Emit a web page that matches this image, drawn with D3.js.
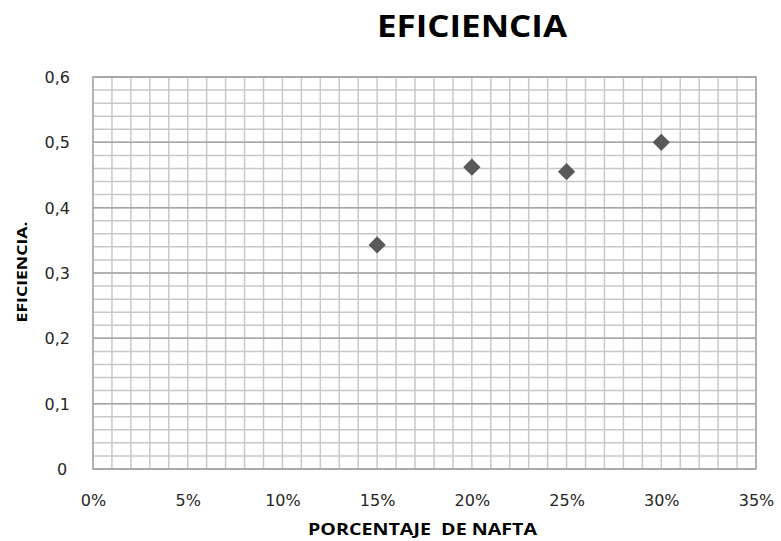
<!DOCTYPE html>
<html><head><meta charset="utf-8">
<script src="https://cdn.jsdelivr.net/npm/d3@7"></script>
<style>body{margin:0;background:#fff}</style>
</head><body>
<svg id="c" width="781" height="541"></svg>
<script>
const xValues = [0.15, 0.20, 0.25, 0.30];
const yValues = [0.343, 0.462, 0.455, 0.500];
const xTickValues = [0, 0.05, 0.10, 0.15, 0.20, 0.25, 0.30, 0.35];
const yTickValues = [0, 0.1, 0.2, 0.3, 0.4, 0.5, 0.6];
const titleText = "EFICIENCIA";
const xTitle = "PORCENTAJE  DE NAFTA";
const yTitle = "EFICIENCIA.";

const svg = d3.select("#c");
const L = 93, R = 756, T = 77, B = 469;
const x = d3.scaleLinear().domain([0, 0.35]).range([L, R]);
const y = d3.scaleLinear().domain([0, 0.6]).range([B, T]);

// minor grid
const xMinor = d3.range(0, 36).map(i => i / 100);
const yMinor = d3.range(0, 31).map(i => i / 50);
svg.append("g").selectAll("line").data(xMinor).join("line")
  .attr("x1", d => x(d)).attr("x2", d => x(d)).attr("y1", T).attr("y2", B)
  .attr("stroke", "#c8c8c8").attr("stroke-width", 1.5);
svg.append("g").selectAll("line").data(yMinor).join("line")
  .attr("x1", L).attr("x2", R).attr("y1", d => y(d)).attr("y2", d => y(d))
  .attr("stroke", "#c8c8c8").attr("stroke-width", 1.5);
// major horizontal grid
svg.append("g").selectAll("line").data(yTickValues).join("line")
  .attr("x1", L).attr("x2", R).attr("y1", d => y(d)).attr("y2", d => y(d))
  .attr("stroke", "#a6a6a6").attr("stroke-width", 1.5);
// frame
svg.append("rect").attr("x", L).attr("y", T).attr("width", R - L).attr("height", B - T)
  .attr("fill", "none").attr("stroke", "#a6a6a6").attr("stroke-width", 1.5);

// axes
const fmtY = d => d === 0 ? "0" : d3.format(".1f")(d).replace(".", ",");
const xAxis = d3.axisBottom(x).tickValues(xTickValues).tickFormat(d3.format(".0%")).tickSize(0).tickPadding(0);
const yAxis = d3.axisLeft(y).tickValues(yTickValues).tickFormat(fmtY).tickSize(0).tickPadding(0);
const gx = svg.append("g").attr("transform", `translate(0,${B})`).call(xAxis);
gx.select(".domain").remove();
gx.selectAll("text").attr("y", 37).attr("dy", 0)
  .attr("font-family", "DejaVu Sans, Verdana, sans-serif").attr("font-size", 16).attr("fill", "#262626");
const gy = svg.append("g").attr("transform", `translate(${L},0)`).call(yAxis);
gy.select(".domain").remove();
gy.selectAll("text").attr("x", -23).attr("dy", "0.35em").attr("text-anchor", "end")
  .attr("font-family", "DejaVu Sans, Verdana, sans-serif").attr("font-size", 16).attr("fill", "#262626");
gy.selectAll("text").filter(d => d === 0).attr("x", -36).attr("text-anchor", "start");

// points
svg.append("g").selectAll("path").data(xValues.map((v, i) => [v, yValues[i]])).join("path")
  .attr("d", d3.symbol(d3.symbolDiamond2, 190)())
  .attr("transform", d => `translate(${x(d[0])},${y(d[1])})`)
  .attr("fill", "#595959");

// titles
svg.append("text").attr("x", 472).attr("y", 37).attr("text-anchor", "middle")
  .attr("font-family", "Open Sans, sans-serif").attr("font-weight", "bold").attr("font-size", 31)
  .attr("textLength", 190).attr("lengthAdjust", "spacingAndGlyphs")
  .attr("fill", "#000").text(titleText);
svg.append("text").attr("x", 422.5).attr("y", 535).attr("text-anchor", "middle")
  .attr("font-family", "Open Sans, sans-serif").attr("font-weight", "bold").attr("font-size", 16)
  .attr("textLength", 229).attr("lengthAdjust", "spacingAndGlyphs")
  .attr("fill", "#000").attr("xml:space", "preserve").style("white-space", "pre").text(xTitle);
svg.append("text").attr("transform", "translate(27,272) rotate(-90)").attr("text-anchor", "middle")
  .attr("font-family", "Open Sans, sans-serif").attr("font-weight", "bold").attr("font-size", 14)
  .attr("textLength", 101).attr("lengthAdjust", "spacingAndGlyphs")
  .attr("fill", "#000").text(yTitle);
</script>
</body></html>
